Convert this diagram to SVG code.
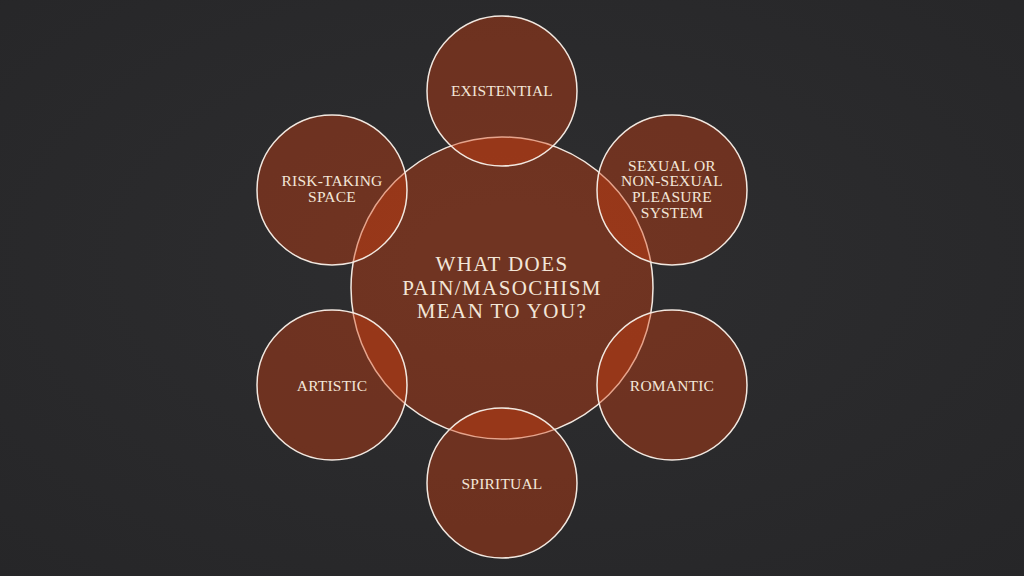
<svg xmlns="http://www.w3.org/2000/svg" width="1024" height="576" viewBox="0 0 1024 576">
<defs>
<radialGradient id="bg" cx="0.5" cy="0.45" r="0.75">
<stop offset="0" stop-color="#2e2e30"/>
<stop offset="1" stop-color="#262628"/>
</radialGradient>
</defs>
<style>
.c{fill:#d53f0f;fill-opacity:0.4;stroke:#f2e8e0;stroke-width:1.5}
.t{font-family:"Liberation Serif","Times New Roman",serif;fill:#f3e6d8;text-anchor:middle}
.s{font-size:15.5px;letter-spacing:0.2px}
.m{font-size:21px;letter-spacing:1.4px}
</style>
<rect width="1024" height="576" fill="url(#bg)"/>
<g id="center">
<circle class="c" cx="502" cy="288" r="151"/>
<text class="t m" x="502" y="271">WHAT DOES</text>
<text class="t m" x="502" y="294.5">PAIN/MASOCHISM</text>
<text class="t m" x="502" y="318">MEAN TO YOU?</text>
</g>
<g id="existential">
<circle class="c" cx="502" cy="91" r="75"/>
<text class="t s" x="502" y="95.5">EXISTENTIAL</text>
</g>
<g id="sexual">
<circle class="c" cx="672" cy="190" r="75"/>
<text class="t s" x="672" y="170.5">SEXUAL OR</text>
<text class="t s" x="672" y="186">NON-SEXUAL</text>
<text class="t s" x="672" y="202">PLEASURE</text>
<text class="t s" x="672" y="217.5">SYSTEM</text>
</g>
<g id="romantic">
<circle class="c" cx="672" cy="385" r="75"/>
<text class="t s" x="672" y="390.5">ROMANTIC</text>
</g>
<g id="spiritual">
<circle class="c" cx="502" cy="483" r="75"/>
<text class="t s" x="502" y="488.5">SPIRITUAL</text>
</g>
<g id="artistic">
<circle class="c" cx="332" cy="385" r="75"/>
<text class="t s" x="332" y="390.5">ARTISTIC</text>
</g>
<g id="risk">
<circle class="c" cx="332" cy="190" r="75"/>
<text class="t s" x="332" y="186">RISK-TAKING</text>
<text class="t s" x="332" y="201.5">SPACE</text>
</g>
<g id="connectors"></g>
</svg>
